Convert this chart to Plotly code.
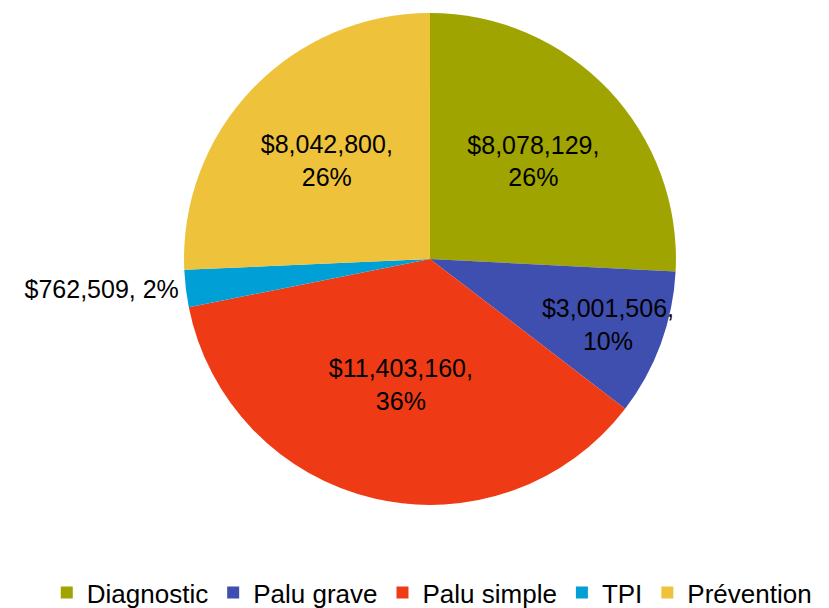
import plotly.graph_objects as go

categories = ["Diagnostic", "Palu grave", "Palu simple", "TPI", "Prévention"]
values = [8078129, 3001506, 11403160, 762509, 8042800]
colors = ["#A0A400", "#3F4FAF", "#EE3B16", "#00A0D6", "#EEC23A"]
text_positions = ["inside", "inside", "inside", "outside", "inside"]
text_templates = [
    "%{value:$,.0f},<br>%{percent:.0%}",
    "%{value:$,.0f},<br>%{percent:.0%}",
    "%{value:$,.0f},<br>%{percent:.0%}",
    "%{value:$,.0f}, %{percent:.0%}",
    "%{value:$,.0f},<br>%{percent:.0%}",
]

W, H = 829, 608
FONT = "Liberation Sans, Arial, sans-serif"
fig = go.Figure(go.Pie(
    labels=categories,
    values=values,
    sort=False,
    direction="clockwise",
    rotation=0,
    marker=dict(colors=colors, line=dict(width=0)),
    textposition=text_positions,
    texttemplate=text_templates,
    insidetextorientation="horizontal",
    textfont=dict(family=FONT, size=25, color="black"),
    hoverinfo="label+value+percent",
    domain=dict(x=[169 / W, 673 / W], y=[(H - 496) / H, 1.0]),
))

fig.update_layout(
    width=W,
    height=H,
    margin=dict(l=0, r=0, t=0, b=0),
    paper_bgcolor="white",
    plot_bgcolor="white",
    font=dict(family=FONT, size=25, color="black"),
    uniformtext=dict(minsize=25, mode="show"),
    showlegend=True,
    legend=dict(
        orientation="h",
        x=0.51,
        xanchor="center",
        y=0.0,
        yanchor="bottom",
        font=dict(family=FONT, size=26),
        itemwidth=30,
        traceorder="normal",
    ),
)

fig.write_html("out.html")
